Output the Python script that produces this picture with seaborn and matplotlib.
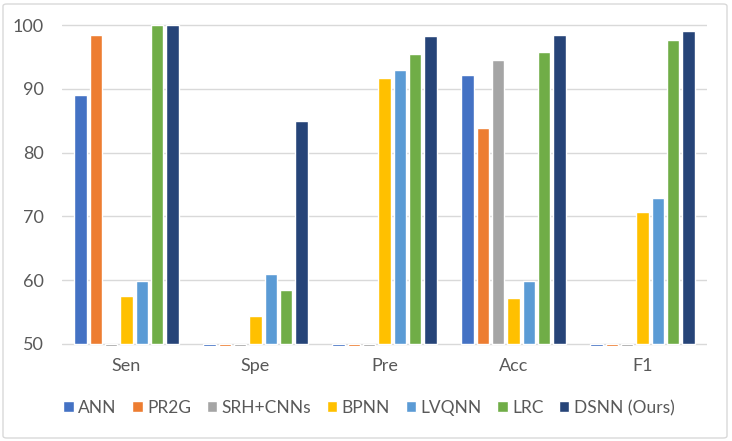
import numpy as np
import pandas as pd
import seaborn as sns
import matplotlib.pyplot as plt
from matplotlib.patches import FancyBboxPatch, Patch

metrics = ['Sen', 'Spe', 'Pre', 'Acc', 'F1']
models = ['ANN', 'PR2G', 'SRH+CNNs', 'BPNN', 'LVQNN', 'LRC', 'DSNN (Ours)']

# 0 = not reported
ann = [89.0, 0, 0, 92.1, 0]
pr2g = [98.4, 0, 0, 83.8, 0]
srh = [0, 0, 0, 94.5, 0]
bpnn = [57.5, 54.4, 91.7, 57.2, 70.7]
lvqnn = [59.9, 60.9, 93.0, 59.9, 72.9]
lrc = [100.0, 58.4, 95.5, 95.7, 97.7]
dsnn = [100.0, 84.9, 98.3, 98.4, 99.1]

colors = ['#4472C4', '#ED7D31', '#A5A5A5', '#FFC000', '#5B9BD5', '#70AD47', '#264478']

rows = []
for name, vals in zip(models, [ann, pr2g, srh, bpnn, lvqnn, lrc, dsnn]):
    for m, v in zip(metrics, vals):
        rows.append({'Metric': m, 'Model': name, 'Value': v})
df = pd.DataFrame(rows)
base = 50
df['h'] = df['Value'] - base

sns.set_style('white')
plt.rcParams['font.family'] = ['Lato', 'DejaVu Sans']

W, H = 732, 441
fig = plt.figure(figsize=(W / 100, H / 100), dpi=100)
# 50 -> y=344px, 100 -> y=25px
ppu = (344 - 25) / 50
y0, y1 = 49.7, 100.3
ax = fig.add_axes([62 / W, 1 - (344 + (50 - y0) * ppu) / H,
                   645 / W, (y1 - y0) * ppu / H])

sns.barplot(data=df, x='Metric', y='h', hue='Model', palette=colors, saturation=1,
            width=0.83, gap=0.2, bottom=base, ax=ax, legend=False)

ax.set_ylim(y0, y1)
ax.set_yticks(np.arange(50, 101, 10))
ax.set_yticklabels([str(t) for t in range(50, 101, 10)])
ax.grid(axis='y', color='#D9D9D9', linewidth=1)
ax.set_axisbelow(True)
for s in ax.spines.values():
    s.set_visible(False)
ax.tick_params(axis='both', length=0, labelsize=13, colors='#595959')
ax.tick_params(axis='x', pad=9)
ax.tick_params(axis='y', pad=13)
ax.set_xlabel('')
ax.set_ylabel('')

handles = [Patch(facecolor=c, label=m) for c, m in zip(colors, models)]
fig.legend(handles=handles, loc='center', bbox_to_anchor=(369 / W, 1 - 408 / H), ncol=7,
           frameon=False, fontsize=12.5, labelcolor='#595959', handlelength=0.6,
           handleheight=0.6, handletextpad=0.25, columnspacing=0.9)

border = FancyBboxPatch((3 / W, 3 / H), 724 / W, 434 / H,
                        boxstyle='round,pad=0,rounding_size=0.005',
                        transform=fig.transFigure, fill=False,
                        edgecolor='#D9D9D9', linewidth=1)
fig.patches.append(border)

plt.savefig('out.png', dpi=100)
